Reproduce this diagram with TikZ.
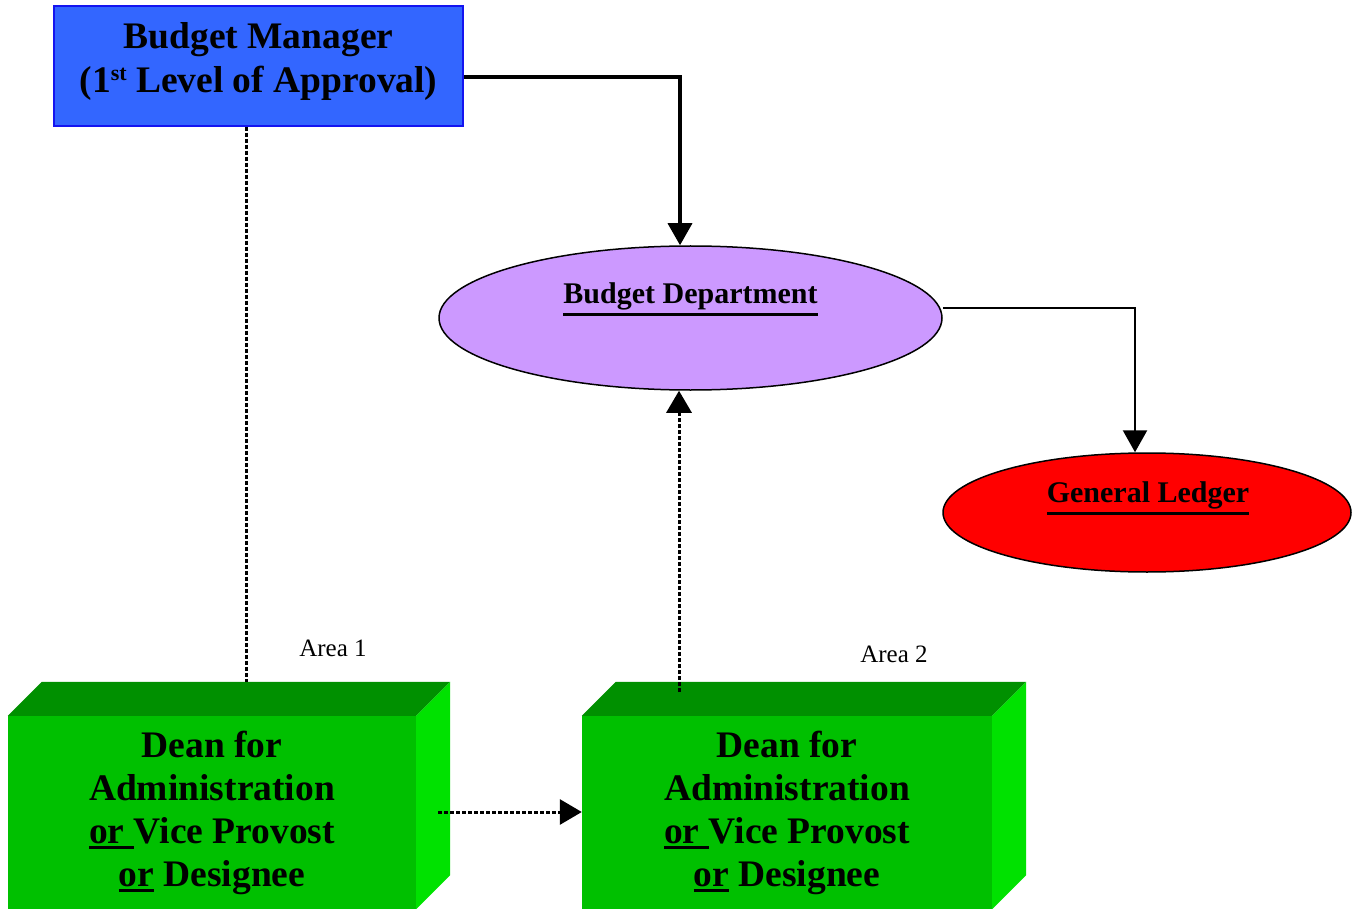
\documentclass[tikz,border=0pt]{standalone}
\usepackage{fontspec}
\setmainfont{Liberation Serif}
\usetikzlibrary{shapes.geometric,arrows.meta}
\definecolor{bmblue}{RGB}{51,102,255}
\definecolor{bmedge}{RGB}{20,20,240}
\definecolor{bdpurple}{RGB}{204,153,255}
\definecolor{glred}{RGB}{255,0,0}
\definecolor{gfront}{RGB}{0,192,0}
\definecolor{gtop}{RGB}{0,144,0}
\definecolor{gside}{RGB}{0,226,0}
\newcommand\thul[1]{\leavevmode\vtop{\hbox{#1}\kern3pt\hrule height 2.6pt}}
\begin{document}
\begin{tikzpicture}[x=1pt,y=-1pt,
  bmbox/.style={draw=bmedge, line width=1.5pt, fill=bmblue, inner sep=0pt},
  bmtext/.style={align=center, inner sep=0pt, font=\fontsize{37.5}{44}\selectfont\bfseries},
  oval/.style={ellipse, draw=black, line width=1.5pt, inner sep=0pt},
  ovaltext/.style={font=\fontsize{30}{32}\selectfont\bfseries},
  front/.style={fill=gfront, inner sep=0pt, align=center,
    font=\fontsize{37.5}{43}\selectfont\bfseries},
  solidarrow/.style={line width=3.5pt, -{Triangle[length=22pt,width=24pt]}},
  thinarrow/.style={line width=2.5pt, -{Triangle[length=22pt,width=24pt]}},
  dotline/.style={line width=3pt, dash pattern=on 4pt off 2pt},
  dotarrow/.style={dotline, -{Triangle[length=22pt,width=25pt]}},
  arealabel/.style={font=\fontsize{25}{28}\selectfont}
]
\useasboundingbox (0,0) rectangle (1357,909);

% Budget Manager
\node[bmbox, minimum width=409pt, minimum height=120pt] (bm) at (258.5,66) {};
\node[bmtext] (bmt) at (258.5,61)
  {Budget Manager\\(1\raisebox{0.3em}{\fontsize{22}{22}\selectfont st} Level of Approval)};

% Budget Department
\node[oval, fill=bdpurple, minimum width=503pt, minimum height=144pt] (bd) at (690.5,318) {};
\node[ovaltext] (bdl) at (690.5,299) {\thul{Budget Department}};

% General Ledger
\node[oval, fill=glred, minimum width=408pt, minimum height=119pt] (gl) at (1147,512.5) {};
\node[ovaltext] (gll) at (1148,498) {\thul{General Ledger}};

% Dean boxes
\node[front, minimum width=408pt, minimum height=193pt] (dean1) at (212,812.5)
  {Dean for\\Administration\\\thul{or\ }Vice Provost\\\thul{or} Designee};
\fill[gtop] (dean1.north west) -- ++(34,-34) -- ([shift={(34,-34)}]dean1.north east) -- (dean1.north east) -- cycle;
\fill[gside] (dean1.north east) -- ++(34,-34) -- ([shift={(34,-34)}]dean1.south east) -- (dean1.south east) -- cycle;

\node[front, minimum width=410pt, minimum height=193pt] (dean2) at (787,812.5)
  {Dean for\\Administration\\\thul{or\ }Vice Provost\\\thul{or} Designee};
\fill[gtop] (dean2.north west) -- ++(34,-34) -- ([shift={(34,-34)}]dean2.north east) -- (dean2.north east) -- cycle;
\fill[gside] (dean2.north east) -- ++(34,-34) -- ([shift={(34,-34)}]dean2.south east) -- (dean2.south east) -- cycle;

% Area labels
\node[arealabel] (a1) at (333,648) {Area 1};
\node[arealabel] (a2) at (894,654) {Area 2};

% Connectors
\coordinate (c1) at (680,77);
\draw[solidarrow] (bm.east |- c1) -- (c1) -- (c1 |- bd.north);

\coordinate (c2) at (1135,308);
\draw[thinarrow] (bd.east |- c2) -- (c2) -- (c2 |- gl.north);

\coordinate (d1) at (246,682);
\draw[dotline] (d1 |- bm.south) -- (d1);

\coordinate (d2) at (679,692);
\draw[dotarrow] (d2) -- (d2 |- bd.south);

\coordinate (h1) at (438,812);
\draw[dotarrow] (h1) -- (h1 -| dean2.west);
\end{tikzpicture}
\end{document}
